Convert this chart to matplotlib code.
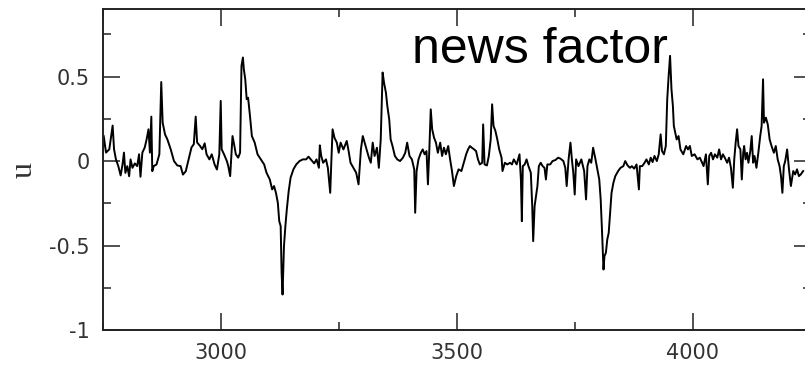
import numpy as np
import matplotlib as mpl
mpl.use('Agg')
import matplotlib.pyplot as plt
from matplotlib.ticker import MultipleLocator, FuncFormatter

#-- news factor u(t)
t_a = [2750, 2752, 2757, 2764, 2771, 2774, 2778, 2783, 2788, 2792, 2795, 2798, 2802, 2806, 2809,
       2813, 2818, 2823, 2827, 2830, 2834, 2839, 2843, 2847, 2850, 2853, 2855, 2858, 2864, 2870,
       2874, 2877, 2882, 2887, 2894, 2901, 2908, 2915, 2920, 2926, 2932, 2938, 2943, 2947, 2950,
       2956, 2961, 2966, 2970, 2976, 2981, 2987, 2992, 2997, 3000, 3002, 3007]
u_a = [0.04, 0.15, 0.05, 0.07, 0.21, 0.07, 0.01, -0.03, -0.085, -0.02, 0.05, -0.07, -0.03, -0.09, 0.01,
       -0.04, -0.014, -0.03, 0.04, -0.093, 0.05, 0.08, 0.128, 0.188, 0.05, 0.263, -0.06, -0.03, -0.02, 0.04,
       0.468, 0.227, 0.158, 0.128, 0.07, 0.0, -0.026, -0.03, -0.08, -0.06, 0.01, 0.08, 0.1, 0.263, 0.11,
       0.09, 0.07, 0.105, 0.04, 0.01, 0.04, -0.02, -0.05, 0.04, 0.356, 0.07, 0.04]

t_b = [3013, 3016, 3020, 3023, 3025, 3029, 3032, 3037, 3041, 3044, 3047, 3049, 3052, 3055, 3058,
       3062, 3066, 3072, 3078, 3085, 3092, 3097, 3104, 3109, 3113, 3117, 3121, 3124, 3127, 3129,
       3131, 3134, 3137, 3140, 3144, 3148, 3154, 3160, 3167, 3174, 3181, 3186, 3192, 3198, 3203,
       3208, 3210, 3213, 3217, 3223, 3227, 3232, 3234, 3237, 3241, 3246, 3250, 3254, 3260]
u_b = [0.0, -0.03, -0.089, 0.049, 0.148, 0.089, 0.04, 0.02, 0.049, 0.563, 0.613, 0.543, 0.484, 0.366, 0.375,
       0.267, 0.148, 0.109, 0.04, 0.01, -0.02, -0.069, -0.109, -0.168, -0.148, -0.188, -0.247, -0.356, -0.385, -0.662,
       -0.79, -0.504, -0.385, -0.287, -0.178, -0.099, -0.049, -0.02, 0.0, 0.01, 0.01, 0.026, 0.006, -0.014, 0.01,
       -0.04, 0.093, 0.03, -0.01, 0.01, -0.04, -0.188, -0.03, 0.188, 0.138, 0.109, 0.049, 0.109, 0.069]

t_c = [3267, 3271, 3275, 3281, 3287, 3292, 3297, 3301, 3305, 3309, 3314, 3318, 3322, 3326, 3331,
       3335, 3339, 3343, 3346, 3350, 3353, 3357, 3360, 3364, 3369, 3374, 3380, 3386, 3391, 3395,
       3400, 3405, 3410, 3412, 3415, 3419, 3424, 3428, 3432, 3436, 3439, 3442, 3445, 3448, 3452,
       3456, 3460, 3465, 3469, 3473, 3477, 3482, 3486, 3490, 3494, 3499, 3504, 3510]
u_c = [0.119, 0.059, -0.01, -0.04, -0.069, -0.138, 0.069, 0.148, 0.109, 0.069, 0.02, -0.01, 0.109, 0.03, 0.079,
       -0.04, 0.128, 0.524, 0.464, 0.405, 0.326, 0.247, 0.128, 0.089, 0.03, 0.01, 0.0, 0.02, 0.049, 0.109,
       0.03, 0.01, -0.049, -0.306, -0.059, 0.01, 0.049, 0.069, 0.04, 0.059, -0.138, 0.069, 0.306, 0.188, 0.138,
       0.109, 0.049, 0.109, 0.03, 0.079, 0.04, 0.089, 0.01, -0.059, -0.148, -0.089, -0.049, -0.059]

t_d = [3520, 3524, 3528, 3532, 3537, 3541, 3545, 3549, 3554, 3556, 3559, 3564, 3568, 3572, 3575,
       3578, 3582, 3586, 3590, 3595, 3597, 3602, 3607, 3613, 3617, 3621, 3627, 3633, 3636, 3638,
       3640, 3644, 3648, 3652, 3657, 3660, 3662, 3665, 3668, 3671, 3674, 3678, 3682, 3686, 3689,
       3692, 3698, 3703, 3709, 3715, 3720, 3726, 3730, 3733, 3737, 3741, 3744, 3747, 3750, 3753,
       3758, 3764, 3770]
u_d = [0.04, 0.069, 0.089, 0.079, 0.069, 0.059, 0.01, -0.02, -0.01, 0.217, -0.02, -0.026, 0.03, 0.128, 0.336,
       0.208, 0.178, 0.128, 0.069, 0.02, -0.059, -0.01, -0.02, -0.01, -0.02, 0.01, -0.02, 0.04, -0.109, -0.356,
       -0.03, -0.02, 0.01, -0.03, -0.069, -0.267, -0.474, -0.267, -0.208, -0.148, -0.03, -0.01, -0.03, -0.04, -0.109,
       -0.02, -0.02, 0.0, 0.006, 0.02, 0.014, 0.0, -0.04, -0.148, 0.01, 0.109, 0.01, -0.069, -0.198, 0.01,
       -0.03, 0.01, -0.059]

t_e = [3774, 3777, 3781, 3785, 3789, 3794, 3798, 3802, 3805, 3808, 3811, 3813, 3816, 3819, 3822,
       3825, 3828, 3832, 3836, 3842, 3847, 3853, 3857, 3862, 3867, 3871, 3876, 3881, 3886, 3888,
       3893, 3898, 3902, 3907, 3911, 3915, 3919, 3924, 3928, 3932, 3935, 3939, 3943, 3946, 3949,
       3952, 3955, 3958, 3960, 3963, 3966, 3970, 3974, 3980, 3986, 3990, 3994, 3998, 4004, 4010,
       4015, 4020]
u_e = [-0.227, -0.03, 0.01, -0.01, 0.079, 0.01, -0.049, -0.109, -0.227, -0.425, -0.642, -0.563, -0.543, -0.464, -0.425,
       -0.306, -0.188, -0.128, -0.089, -0.059, -0.04, -0.03, 0.0, -0.026, -0.04, -0.03, -0.045, -0.02, -0.168, -0.03,
       -0.03, -0.01, 0.01, -0.02, 0.02, -0.006, 0.03, 0.0, 0.04, 0.158, 0.059, 0.04, 0.089, 0.366, 0.504,
       0.623, 0.425, 0.326, 0.208, 0.168, 0.128, 0.148, 0.069, 0.04, 0.089, 0.069, 0.089, 0.03, 0.04, 0.01,
       0.02, -0.01]

t_f = [4023, 4028, 4032, 4035, 4039, 4043, 4047, 4052, 4056, 4060, 4064, 4068, 4073, 4077, 4081,
       4085, 4088, 4091, 4094, 4097, 4101, 4104, 4107, 4109, 4112, 4115, 4118, 4122, 4125, 4128,
       4131, 4135, 4139, 4143, 4146, 4149, 4151, 4155, 4159, 4163, 4167, 4172, 4176, 4180, 4184,
       4187, 4190, 4193, 4196, 4200, 4204, 4208, 4213, 4217, 4221, 4225, 4229, 4234]
u_f = [-0.03, 0.04, -0.138, 0.03, 0.049, 0.01, 0.04, 0.02, 0.069, 0.01, 0.04, 0.02, -0.01, 0.02, -0.04,
       -0.158, 0.01, 0.109, 0.188, 0.089, 0.069, -0.109, 0.049, 0.089, 0.01, 0.049, -0.01, 0.059, 0.148, -0.01,
       0.03, -0.04, 0.049, 0.148, 0.208, 0.484, 0.227, 0.257, 0.217, 0.128, 0.089, 0.049, 0.089, 0.01, -0.03,
       -0.089, -0.188, -0.03, 0.0, 0.069, -0.049, -0.148, -0.059, -0.079, -0.049, -0.089, -0.079, -0.059]

t = np.concatenate([t_a, t_b, t_c, t_d, t_e, t_f])
u = np.concatenate([u_a, u_b, u_c, u_d, u_e, u_f])

title = 'news factor'

plt.rcParams['axes.unicode_minus'] = False

#-- figure 805x371 px
fig = plt.figure(figsize=(8.05, 3.71), dpi=100)
ax = fig.add_axes([0.1276, 0.1105, 0.8795, 0.8652])   #-- x,y,w,h (right edge cut off)

ax.plot(t, u, color='black', linewidth=1.4)

ax.set_xlim(2750, 4250)
ax.set_ylim(-1, 0.9)

#-- ticks: inward on all four sides
ax.xaxis.set_major_locator(MultipleLocator(500))
ax.xaxis.set_minor_locator(MultipleLocator(250))
ax.yaxis.set_major_locator(MultipleLocator(0.5))
ax.yaxis.set_minor_locator(MultipleLocator(0.25))
ax.yaxis.set_major_formatter(FuncFormatter(lambda v, p: '%g' % v))
ax.tick_params(which='both', direction='in', top=True, right=True, width=1.1, color='#222222')
ax.tick_params(which='major', length=12, labelsize=15, pad=9.5, labelcolor='#333333')
ax.tick_params(which='minor', length=6)
for lab in ax.get_xticklabels() + ax.get_yticklabels():
    lab.set_family('DejaVu Sans')
for sp in ax.spines.values():
    sp.set_linewidth(1.4)
    sp.set_color('#222222')

#-- y label
ax.set_ylabel('u', family='Liberation Serif', fontsize=23, color='#333333')
ax.yaxis.set_label_coords(-0.090, 0.5)

#-- title string inside the frame
fig.text(0.5114, 0.8294, title, family='Liberation Sans', fontsize=36,
         ha='left', va='baseline', color='black')

plt.savefig('out.png', dpi=100)
